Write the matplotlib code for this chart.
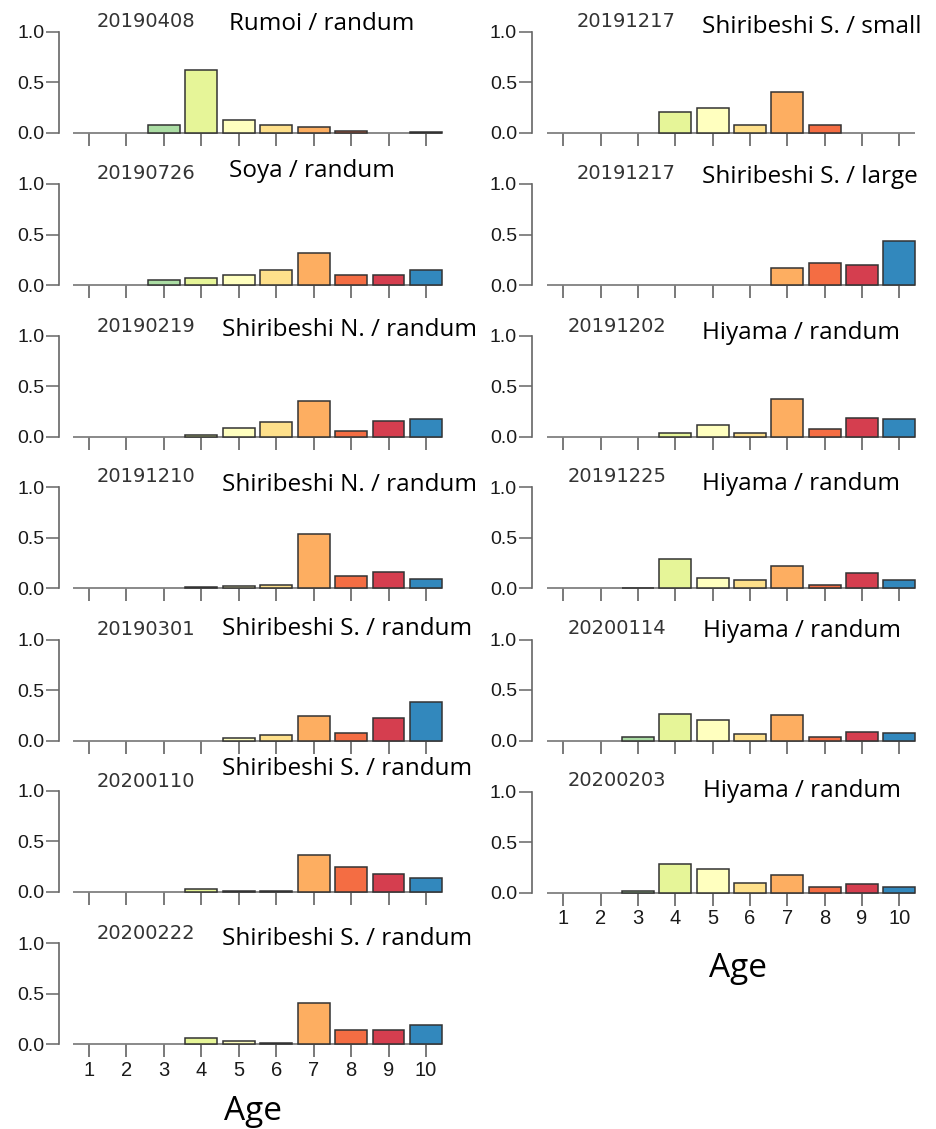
import numpy as np
import matplotlib
matplotlib.use('Agg')
import matplotlib.pyplot as plt

plt.rcParams['font.family'] = ['Liberation Sans', 'DejaVu Sans']

# age classes and bar colours (Spectral palette)
ages = np.arange(1, 11)
age_colors = ['#5e4fa2', '#66c2a5', '#abdda4', '#e6f598', '#ffffbf',
              '#fee08b', '#fdae61', '#f46d43', '#d53e4f', '#3288bd']

# left column panels
left_dates = ['20190408', '20190726', '20190219', '20191210',
              '20190301', '20200110', '20200222']
left_labels = ['Rumoi / randum', 'Soya / randum', 'Shiribeshi N. / randum',
               'Shiribeshi N. / randum', 'Shiribeshi S. / randum',
               'Shiribeshi S. / randum', 'Shiribeshi S. / randum']
left_values = [
    [0, 0, 0.08, 0.62, 0.13, 0.08, 0.057, 0.02, 0, 0.005],
    [0, 0, 0.05, 0.065, 0.10, 0.147, 0.314, 0.095, 0.095, 0.147],
    [0, 0, 0, 0.02, 0.083, 0.148, 0.352, 0.06, 0.158, 0.18],
    [0, 0, 0, 0.013, 0.023, 0.036, 0.533, 0.125, 0.165, 0.092],
    [0, 0, 0, 0, 0.023, 0.053, 0.247, 0.076, 0.227, 0.379],
    [0, 0, 0, 0.023, 0.008, 0.008, 0.365, 0.247, 0.171, 0.135],
    [0, 0, 0, 0.065, 0.03, 0.01, 0.41, 0.143, 0.143, 0.19],
]

# right column panels
right_dates = ['20191217', '20191217', '20191202', '20191225',
               '20200114', '20200203']
right_labels = ['Shiribeshi S. / small', 'Shiribeshi S. / large',
                'Hiyama / randum', 'Hiyama / randum',
                'Hiyama / randum', 'Hiyama / randum']
right_values = [
    [0, 0, 0, 0.205, 0.24, 0.076, 0.40, 0.075, 0, 0],
    [0, 0, 0, 0, 0, 0, 0.168, 0.217, 0.194, 0.431],
    [0, 0, 0, 0.033, 0.115, 0.033, 0.372, 0.073, 0.187, 0.18],
    [0, 0, 0.007, 0.289, 0.105, 0.079, 0.217, 0.036, 0.154, 0.079],
    [0, 0, 0.03, 0.26, 0.20, 0.06, 0.25, 0.03, 0.08, 0.07],
    [0, 0, 0.015, 0.283, 0.234, 0.10, 0.18, 0.06, 0.083, 0.056],
]

W, H = 936, 1129
fig = plt.figure(figsize=(W / 100, H / 100), dpi=100)


def fx(px):
    return px / W


def fy(px):
    return 1 - px / H


def panel(x0, x1, base, xmin, vals, show_xlabels):
    ax = fig.add_axes([fx(x0), fy(base), fx(x1 - x0), 101 / H])
    ax.set_xlim(xmin, 10.5)
    ax.set_ylim(0, 1)
    v = np.array(vals)
    m = v > 0
    ax.bar(ages[m], v[m], width=0.85, color=np.array(age_colors)[m],
           edgecolor='#333333', linewidth=1.1, clip_on=False, zorder=3)
    ax.hlines(0, 0.575, 10.425, color='#808080', lw=1.3, zorder=2, clip_on=False)
    for s in ['top', 'right', 'bottom']:
        ax.spines[s].set_visible(False)
    ax.spines['left'].set_bounds(0, 1)
    ax.spines['left'].set_color('#666666')
    ax.spines['left'].set_linewidth(1.2)
    ax.set_yticks([0, 0.5, 1.0])
    ax.set_yticklabels(['0.0', '0.5', '1.0'])
    ax.set_xticks(ages)
    ax.tick_params(axis='y', length=9.5, width=1.1, color='#666666', pad=1,
                   labelsize=14, labelcolor='#1a1a1a')
    ax.tick_params(axis='x', length=9, width=1.1, color='#555555', pad=3,
                   labelsize=14.5, labelcolor='#1a1a1a')
    if not show_xlabels:
        ax.set_xticklabels([])
    ax.patch.set_alpha(0)
    return ax


left_base = [132.7, 285, 436.7, 588.3, 740.7, 891.7, 1044.3]
right_base = [132.7, 285, 436.7, 588.3, 740.5, 892.7]

left_date_y = [26.7, 179, 331.7, 482.3, 635, 787.3, 939]
left_label_pos = [(229, 30), (229, 177.3), (221.7, 336), (221.7, 491),
                  (221.7, 635), (221.7, 775), (221.7, 945)]
right_date_pos = [(576.7, 26.7), (576.7, 179), (567.7, 331.7),
                  (567.7, 481.7), (568, 634), (568, 786)]
right_label_pos = [(702, 33.3), (702, 183.3), (702, 339.3), (702, 490),
                   (703, 637), (703, 796.7)]

for i in range(7):
    panel(59.0, 444.7, left_base[i], 0.2, left_values[i], i == 6)
    fig.text(fx(97), fy(left_date_y[i]), left_dates[i], fontsize=14,
             family='DejaVu Sans', color='#333333', va='baseline')
    x, y = left_label_pos[i]
    fig.text(fx(x), fy(y), left_labels[i], fontsize=17.5, family='Open Sans',
             color='black', va='baseline')

for i in range(6):
    panel(531.6, 918, right_base[i], 0.15, right_values[i], i == 5)
    x, y = right_date_pos[i]
    fig.text(fx(x), fy(y), right_dates[i], fontsize=14,
             family='DejaVu Sans', color='#333333', va='baseline')
    x, y = right_label_pos[i]
    fig.text(fx(x), fy(y), right_labels[i], fontsize=17.5, family='Open Sans',
             color='black', va='baseline',
             bbox=dict(facecolor='white', edgecolor='none', pad=0.5))

fig.text(fx(253), fy(1120), 'Age', fontsize=24, family='Open Sans',
         ha='center', va='baseline')
fig.text(fx(738), fy(976.7), 'Age', fontsize=24, family='Open Sans',
         ha='center', va='baseline')

fig.savefig('out.png', dpi=100, facecolor='white')
